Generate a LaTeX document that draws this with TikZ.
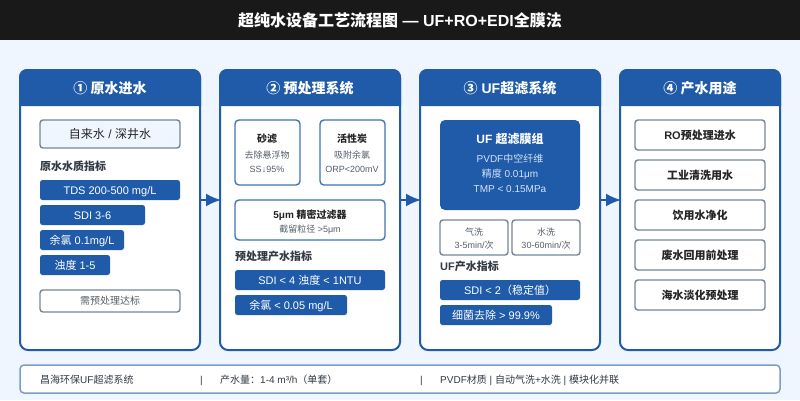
\documentclass[tikz,border=0pt]{standalone}
\usepackage{fontspec}
\usetikzlibrary{arrows.meta}
\setmainfont{Liberation Sans}
\newfontfamily\cjk{Noto Sans CJK SC}
\newcommand{\zh}[1]{{\cjk #1}}
\newcommand{\fs}[1]{\fontsize{#1}{#1}\selectfont}
\definecolor{hdrblue}{HTML}{1F5BA8}
\definecolor{edgeblue}{HTML}{3F75B8}
\definecolor{edgegray}{HTML}{768698}
\definecolor{paleblue}{HTML}{F0F6FF}
\definecolor{darktxt}{HTML}{333B45}
\definecolor{subtxt}{HTML}{555F6A}
\definecolor{lighttxt}{HTML}{D3E2F7}
\tikzset{
  panel/.style={draw=hdrblue,line width=2pt,fill=white,rounded corners=8pt,minimum width=180pt,minimum height=280pt,inner sep=0pt},
  hdr/.style={text=white,font=\fs{14}\bfseries,anchor=base},
  pill/.style={fill=hdrblue,rounded corners=2.5pt,text=white,font=\fs{11},inner sep=0pt,minimum height=20pt,text height=8pt,text depth=0pt},
  graybox/.style={draw=edgegray,line width=1.4pt,fill=white,rounded corners=3pt,inner sep=0pt},
  bluebox/.style={draw=edgeblue,line width=1.4pt,fill=white,rounded corners=4pt,inner sep=0pt},
  usebox/.style={graybox,minimum width=130pt,minimum height=30pt,font=\fs{11}\bfseries,text=black!85,text height=8pt,text depth=0pt},
  lbl/.style={anchor=base west,inner sep=0pt,font=\fs{11}\bfseries,text=darktxt},
  ttl/.style={anchor=base,inner sep=0pt,font=\fs{10}\bfseries,text=black!85},
  sub/.style={anchor=base,inner sep=0pt,font=\fs{9},text=subtxt},
  foot/.style={anchor=base west,inner sep=0pt,font=\fs{10},text=darktxt},
  flow/.style={draw=hdrblue,line width=2pt,-{Latex[length=15pt,width=13pt]},shorten >=-2pt}
}
\begin{document}
\begin{tikzpicture}[x=1pt,y=-1pt]
  \useasboundingbox (0,0) rectangle (800,400);
  \fill[paleblue] (0,0) rectangle (800,400);
  \fill[black!90] (0,0) rectangle (800,40);
  \node[anchor=base,text=white,font=\fs{16}\bfseries] (title) at (400,26) {\zh{超纯水设备工艺流程图} — UF+RO+EDI\zh{全膜法}};

  % panel 1
  \node[panel] (pnlraw) at (110,210) {};
  \fill[hdrblue] (19,106) [rounded corners=8pt] -- (19,69) -- (201,69) [sharp corners] -- (201,106) -- cycle;
  \node[hdr] (hdrraw) at (110,93) {\zh{① 原水进水}};
  \node[graybox,fill=paleblue,minimum width=140pt,minimum height=28pt,font=\fs{12},text=black!85,text height=9pt,text depth=0pt] (source) at (110,134) {\zh{自来水} / \zh{深井水}};
  \node[lbl] (lblraw) at (40,170) {\zh{原水水质指标}};
  \node[pill,minimum width=140pt] (tds) at (110,190) {TDS 200-500 mg/L};
  \node[pill,minimum width=105pt] (sdiraw) at (92.5,215) {SDI 3-6};
  \node[pill,minimum width=84pt] (clraw) at (82,240) {\zh{余氯} 0.1mg/L};
  \node[pill,minimum width=70pt] (turb) at (75,265) {\zh{浊度} 1-5};
  \node[graybox,minimum width=140pt,minimum height=22pt,font=\fs{10},text=subtxt,text height=7pt,text depth=0pt] (need) at (110,301) {\zh{需预处理达标}};

  % panel 2
  \node[panel] (pnlpre) at (310,210) {};
  \fill[hdrblue] (219,106) [rounded corners=8pt] -- (219,69) -- (401,69) [sharp corners] -- (401,106) -- cycle;
  \node[hdr] (hdrpre) at (310,93) {\zh{② 预处理系统}};
  \node[bluebox,minimum width=65pt,minimum height=65pt] (sand) at (267.5,152.5) {};
  \node[ttl] (sandt) at (267,142.5) {\zh{砂滤}};
  \node[sub] (sanda) at (267,158) {\zh{去除悬浮物}};
  \node[sub] (sandb) at (267,172) {SS↓95\%};
  \node[bluebox,minimum width=65pt,minimum height=65pt] (carbon) at (352.5,152.5) {};
  \node[ttl] (carbont) at (352,142.5) {\zh{活性炭}};
  \node[sub] (carbona) at (352,158) {\zh{吸附余氯}};
  \node[sub] (carbonb) at (352,172) {ORP<200mV};
  \node[bluebox,minimum width=150pt,minimum height=40pt] (fine) at (310,220) {};
  \node[ttl] (finet) at (310,218) {5μm \zh{精密过滤器}};
  \node[sub] (finea) at (310,232) {\zh{截留粒径} >5μm};
  \node[lbl] (lblpre) at (235,260) {\zh{预处理产水指标}};
  \node[pill,minimum width=150pt] (sdipre) at (310,280) {SDI < 4 \zh{浊度} < 1NTU};
  \node[pill,minimum width=112pt] (clpre) at (291,305) {\zh{余氯} < 0.05 mg/L};

  % panel 3
  \node[panel] (pnluf) at (510,210) {};
  \fill[hdrblue] (419,106) [rounded corners=8pt] -- (419,69) -- (601,69) [sharp corners] -- (601,106) -- cycle;
  \node[hdr] (hdruf) at (510,93) {\zh{③} UF\zh{超滤系统}};
  \node[fill=hdrblue,rounded corners=5pt,minimum width=140pt,minimum height=90pt,inner sep=0pt] (module) at (510,165) {};
  \node[ttl,text=white,font=\fs{12}\bfseries] (modulet) at (510,143) {UF \zh{超滤膜组}};
  \node[sub,text=lighttxt,font=\fs{10}] (modulea) at (510,162) {PVDF\zh{中空纤维}};
  \node[sub,text=lighttxt,font=\fs{10}] (moduleb) at (510,177) {\zh{精度} 0.01μm};
  \node[sub,text=lighttxt,font=\fs{10}] (modulec) at (510,192) {TMP < 0.15MPa};
  \node[graybox,minimum width=68pt,minimum height=35pt] (air) at (474,237.5) {};
  \node[sub] (airt) at (474,235) {\zh{气洗}};
  \node[sub] (aira) at (474,248) {3-5min/\zh{次}};
  \node[graybox,minimum width=68pt,minimum height=35pt] (wash) at (546,237.5) {};
  \node[sub] (washt) at (546,235) {\zh{水洗}};
  \node[sub] (washa) at (546,248) {30-60min/\zh{次}};
  \node[lbl] (lbluf) at (440,270) {UF\zh{产水指标}};
  \node[pill,minimum width=140pt] (sdiuf) at (510,290) {SDI < 2\zh{（稳定值）}};
  \node[pill,minimum width=112pt] (germ) at (496,315) {\zh{细菌去除} > 99.9\%};

  % panel 4
  \node[panel,minimum width=160pt] (pnluse) at (700,210) {};
  \fill[hdrblue] (619,106) [rounded corners=8pt] -- (619,69) -- (781,69) [sharp corners] -- (781,106) -- cycle;
  \node[hdr] (hdruse) at (700,93) {\zh{④ 产水用途}};
  \node[usebox] (usero) at (700,135) {RO\zh{预处理进水}};
  \node[usebox] (useind) at (700,175) {\zh{工业清洗用水}};
  \node[usebox] (usedrink) at (700,215) {\zh{饮用水净化}};
  \node[usebox] (usewaste) at (700,255) {\zh{废水回用前处理}};
  \node[usebox] (usesea) at (700,295) {\zh{海水淡化预处理}};

  % arrows
  \draw[flow] ([yshift=10pt]pnlraw.east) -- ([yshift=10pt]pnlpre.west);
  \draw[flow] ([yshift=10pt]pnlpre.east) -- ([yshift=10pt]pnluf.west);
  \draw[flow] ([yshift=10pt]pnluf.east) -- ([yshift=10pt]pnluse.west);

  % footer
  \node[draw=edgeblue!70,line width=1.5pt,fill=white,rounded corners=4pt,minimum width=760pt,minimum height=28pt,inner sep=0pt] (footer) at (400,379) {};
  \node[foot] (foota) at (40,383) {\zh{昌海环保}UF\zh{超滤系统}};
  \node[foot] (sepa) at (200,383) {|};
  \node[foot] (footb) at (220,383) {\zh{产水量：}1-4 m³/h\zh{（单套）}};
  \node[foot] (sepb) at (420,383) {|};
  \node[foot] (footc) at (440,383) {PVDF\zh{材质} | \zh{自动气洗}+\zh{水洗} | \zh{模块化并联}};
\end{tikzpicture}
\end{document}
